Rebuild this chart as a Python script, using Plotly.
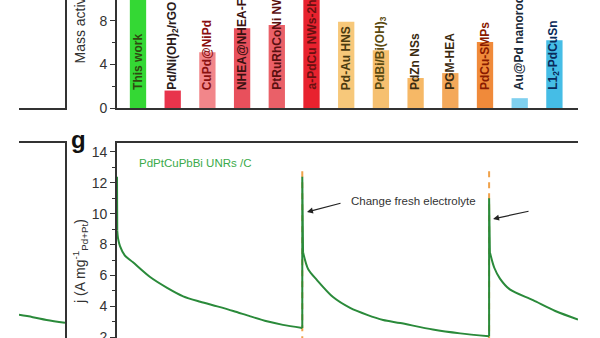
import plotly.graph_objects as go

# ---------------- data ----------------
catalysts = ["This work", "Pd/Ni(OH)<sub>2</sub>/rGO", "CuPd@NiPd", "NHEA@NHEA-FeCo",
             "PtRuRhCoNi NWs", "a-PdCu NWs-2h", "Pd-Au HNS", "PdBi/Bi(OH)<sub>3</sub>",
             "PdZn NSs", "PGM-HEA", "PdCu-SMPs", "Au@Pd nanorods", "L1<sub>2</sub>-PdCuSn"]
mass_activity = [11.5, 1.6, 5.1, 7.3, 7.6, 10.5, 7.9, 5.3, 2.75, 3.2, 6.05, 0.9, 6.2]
bar_colors = ["#34d834", "#e8344c", "#f2868a", "#e8505c", "#ea6068", "#e8222e", "#f7c87a",
              "#f6c070", "#f6b866", "#f4a85a", "#f08a3a", "#7fd0ef", "#45bde6"]
label_colors = ["#2f4a10", "#2a1a1a", "#8a1010", "#3a1010", "#5a1010", "#6a1010", "#4a3a10",
                "#5a4a10", "#3a2a10", "#3a2a10", "#8a1a00", "#1a2a3a", "#0a2a5a"]

# chronoamperometry: spikes at each (re)start and decays (time s, j A mg^-1)
spike_t = [[0, 0, 5], [3585, 3585, 3600], [7200, 7200, 7215]]
spike_j = [[9.0, 12.4, 8.9], [2.6, 12.4, 7.5], [2.06, 11.0, 7.5]]
decay1_t = [5, 20, 58, 150, 310, 640, 970, 1280, 1610, 1940, 2250, 2580, 2900, 3210, 3585]
decay1_j = [8.9, 8.4, 7.9, 7.3, 6.85, 5.9, 5.2, 4.65, 4.3, 4.0, 3.7, 3.35, 3.03, 2.8, 2.6]
decay2_t = [3600, 3700, 3870, 4180, 4510, 4840, 5150, 5480, 6110, 6640, 7200]
decay2_j = [7.5, 6.4, 5.7, 4.6, 3.9, 3.45, 3.12, 2.92, 2.5, 2.25, 2.06]
decay3_t = [7215, 7300, 7410, 7600, 8050, 8480, 8920]
decay3_j = [7.5, 6.5, 5.8, 5.1, 4.4, 3.7, 3.15]
change_times = [3585, 7200]
dash_top = 12.75

# neighbouring panel curve (partially visible)
t_left = [0.0, 0.3, 0.6, 1.0]
j_left = [3.45, 3.3, 3.12, 2.93]

# ---------------- figure ----------------
W, H = 600, 338
def px(x): return x / W
def py(y): return 1 - y / H

AX = "#333333"
FONT = "Arial, Liberation Sans, sans-serif"
green = "#2a8a3a"
orange = "#f0a24a"

fig = go.Figure()

fig.add_trace(go.Bar(x=list(range(len(catalysts))), y=mass_activity,
                     marker=dict(color=bar_colors, line=dict(width=0)),
                     width=0.47, xaxis="x", yaxis="y", showlegend=False))

for tc in change_times:
    fig.add_trace(go.Scatter(x=[tc, tc], y=[dash_top, 1.5], mode="lines",
                             line=dict(color=orange, width=2, dash="6px,5px"),
                             xaxis="x2", yaxis="y2", showlegend=False))

for tt, jj in zip(spike_t, spike_j):
    fig.add_trace(go.Scatter(x=tt, y=jj, mode="lines", line=dict(color=green, width=2),
                             xaxis="x2", yaxis="y2", showlegend=False))
for tt, jj in [(decay1_t, decay1_j), (decay2_t, decay2_j), (decay3_t, decay3_j)]:
    fig.add_trace(go.Scatter(x=tt, y=jj, mode="lines",
                             line=dict(color=green, width=2, shape="spline", smoothing=0.8),
                             xaxis="x2", yaxis="y2", showlegend=False))

fig.add_trace(go.Scatter(x=t_left, y=j_left, mode="lines",
                         line=dict(color=green, width=2, shape="spline"),
                         xaxis="x3", yaxis="y3", showlegend=False))
fig.add_trace(go.Scatter(x=[None], y=[None], mode="lines", xaxis="x4", yaxis="y4",
                         showlegend=False))

line_kw = dict(showline=True, linecolor=AX, linewidth=1.6, showgrid=False, zeroline=False,
               automargin=False)

fig.update_layout(
    width=W, height=H, margin=dict(l=0, r=0, t=0, b=0, autoexpand=False),
    paper_bgcolor="white", plot_bgcolor="rgba(0,0,0,0)",
    font=dict(family=FONT, color=AX),
    xaxis=dict(domain=[px(117), px(578)], range=[-0.605, 12.68], anchor="y",
               showticklabels=False, ticks="", **line_kw),
    yaxis=dict(domain=[py(108), 1], range=[0, 9.9], anchor="x",
               tickvals=[0, 4, 8], ticks="outside", ticklen=5, tickwidth=1.3, tickcolor=AX,
               minor=dict(tickvals=[2, 6], ticks="outside", ticklen=3, tickcolor=AX),
               ticklabeloverflow="allow",
               tickfont=dict(size=14, color=AX), **line_kw),
    xaxis2=dict(domain=[px(117), px(578)], range=[0, 8920], anchor="y2", side="top",
                showticklabels=False, ticks="", **line_kw),
    yaxis2=dict(domain=[0, py(143)], range=[1.95, 14.58], anchor="x2",
                tickvals=[2, 4, 6, 8, 10, 12, 14], ticks="outside", ticklen=5, tickwidth=1.3,
                tickcolor=AX, ticklabeloverflow="allow",
                minor=dict(tickvals=[3, 5, 7, 9, 11, 13], ticks="outside", ticklen=3,
                           tickcolor=AX),
                tickfont=dict(size=14, color=AX), **line_kw),
    xaxis3=dict(domain=[px(19), px(65)], range=[0, 1], anchor="y3", side="top",
                showticklabels=False, ticks="", **line_kw),
    yaxis3=dict(domain=[0, py(143)], range=[1.95, 14.58], anchor="x3", side="right",
                showticklabels=False, ticks="", **line_kw),
    xaxis4=dict(domain=[px(19), px(65)], range=[0, 1], anchor="y4",
                showticklabels=False, ticks="", **line_kw),
    yaxis4=dict(domain=[py(108), 1], range=[0, 9.9], anchor="x4", side="right",
                showticklabels=False, ticks="", **line_kw),
)

ann = []
for i, (name, lc) in enumerate(zip(catalysts, label_colors)):
    ann.append(dict(x=i, y=1.47, xref="x", yref="y", text="<b>" + name + "</b>",
                    textangle=-90, xanchor="center", yanchor="bottom", showarrow=False,
                    font=dict(size=12, color=lc, family=FONT)))

ann.append(dict(x=px(80), y=py(66), xref="paper", yref="paper",
                text="Mass activity (A mg<sup>-1</sup><sub>Pd+Pt</sub>)", textangle=-90,
                xanchor="center", yanchor="bottom", showarrow=False,
                font=dict(size=14, color=AX)))
ann.append(dict(x=px(80), y=py(262), xref="paper", yref="paper",
                text="j (A mg<sup>-1</sup><sub>Pd+Pt</sub>)", textangle=-90,
                xanchor="center", yanchor="middle", showarrow=False,
                font=dict(size=14, color=AX)))
ann.append(dict(x=px(79), y=py(139), xref="paper", yref="paper", text="<b>g</b>",
                xanchor="center", yanchor="middle", showarrow=False,
                font=dict(size=24, color="#111111")))
ann.append(dict(x=387, y=13.3, xref="x2", yref="y2", text="PdPtCuPbBi UNRs /C",
                xanchor="left", yanchor="middle", showarrow=False,
                font=dict(size=11.5, color="#3aaa4a")))
ann.append(dict(x=5728, y=10.83, xref="x2", yref="y2", text="Change fresh electrolyte",
                xanchor="center", yanchor="middle", showarrow=False,
                font=dict(size=11.5, color="#333333")))
for (hx, hy, tx, ty) in [(3676, 10.11, 4354, 10.70), (7276, 9.66, 7992, 10.18)]:
    ann.append(dict(x=hx, y=hy, ax=tx, ay=ty, xref="x2", yref="y2", axref="x2", ayref="y2",
                    text="", showarrow=True, arrowhead=2, arrowsize=1, arrowwidth=1.2,
                    arrowcolor="#222222"))
fig.update_layout(annotations=ann)

fig.write_html("out.html")
